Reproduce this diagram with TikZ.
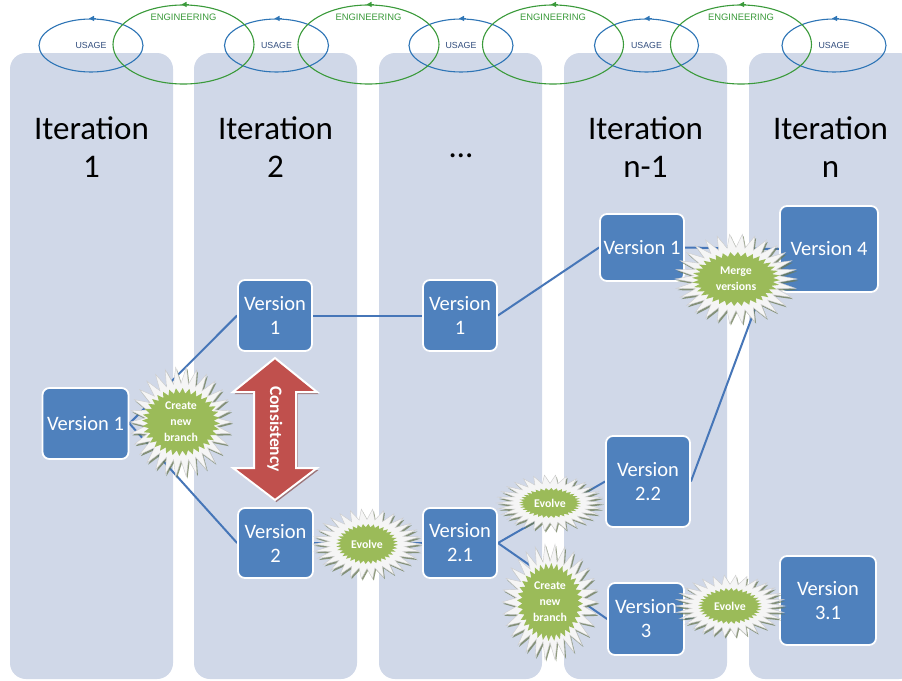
\documentclass[tikz,border=0pt]{standalone}
\usepackage{fontspec}
\setmainfont{Carlito}
\newfontfamily\arialfont{Liberation Sans}
\usetikzlibrary{shapes.geometric,arrows.meta,calc}
\pgfdeclarelayer{bg}
\pgfdeclarelayer{lines}
\pgfsetlayers{bg,lines,main}
\definecolor{colbg}{HTML}{D0D8E8}
\definecolor{vblue}{HTML}{4F81BD}
\definecolor{lineblue}{HTML}{4676B8}
\definecolor{ured}{HTML}{C0504D}
\definecolor{bgreen}{HTML}{9BBB59}
\definecolor{usageblue}{HTML}{2E75B6}
\definecolor{usagetext}{HTML}{2F4B7C}
\definecolor{enggreen}{HTML}{3A9A3A}
\definecolor{burstedge}{HTML}{6B7A55}
\definecolor{redshade}{HTML}{7A3533}
\tikzset{
  column/.style={fill=colbg, rounded corners=16pt},
  usageell/.style={ellipse, draw=usageblue, line width=1.1pt, minimum width=104pt, minimum height=53pt, inner sep=0pt, text=usagetext, font=\arialfont\fontsize{8.8}{10}\selectfont},
  engell/.style={ellipse, draw=enggreen, line width=1.1pt, minimum width=141pt, minimum height=79pt, inner sep=0pt},
  engtext/.style={text=enggreen, font=\arialfont\fontsize{9.4}{11}\selectfont, inner sep=0pt},
  utip/.style={draw=usageblue, line width=1.1pt, -{Triangle[length=5pt,width=5pt]}},
  etip/.style={draw=enggreen, line width=1.1pt, -{Triangle[length=5pt,width=5pt]}},
  title/.style={font=\fontsize{33}{38}\selectfont, align=center, inner sep=0pt, text=black},
  version/.style={rectangle, rounded corners=7pt, fill=vblue, draw=white, line width=1.8pt, text=white, font=\fontsize{20.5}{24}\selectfont, align=center, inner sep=0pt},
  conn/.style={draw=lineblue, line width=2pt},
  burstshadow/.style={fill=burstedge, fill opacity=0.75},
  burstouter/.style={fill=white!96!black, draw=white!80!black, line width=0.4pt},
  burstinner/.style={fill=bgreen},
  bursttext/.style={text=white, font=\bfseries\fontsize{11.8}{16}\selectfont, align=center, inner sep=0pt},
  consshade/.style={fill=redshade, fill opacity=0.6},
  consarrow/.style={fill=ured, draw=white, line width=2pt, line join=miter},
  constext/.style={text=white, font=\bfseries\fontsize{17.5}{20}\selectfont, inner sep=0pt, rotate=-90}
}
% #1 name, #2 x, #3 y, #4 rx, #5 ry, #6 inner rx, #7 inner ry, #8 text
\newcommand{\burstnode}[8]{%
  \fill[burstshadow, shift={(#2+1.2,#3+1.8)}] plot[samples at={0,...,59}]
    ({#4*(1-0.3*mod(\x,2))*cos(\x*6)}, {#5*(1-0.3*mod(\x,2))*sin(\x*6)}) -- cycle;
  \draw[burstouter, shift={(#2,#3)}] plot[samples at={0,...,59}]
    ({#4*(1-0.3*mod(\x,2))*cos(\x*6)}, {#5*(1-0.3*mod(\x,2))*sin(\x*6)}) -- cycle;
  \fill[burstinner, shift={(#2,#3)}] plot[samples at={0,...,71}]
    ({#6*(1-0.16*mod(\x,2))*cos(\x*5+2.5)}, {#7*(1-0.16*mod(\x,2))*sin(\x*5+2.5)}) -- cycle;
  \node[bursttext] (#1) at (#2,#3) {#8};%
}
\begin{document}
\begin{tikzpicture}[x=1pt, y=-1pt]
\useasboundingbox (0,0) rectangle (902,680);
\begin{pgfonlayer}{bg}
  \fill[white] (0,0) rectangle (902,680);
  \fill[column] (10,53) rectangle (173,679);
  \fill[column] (194,53) rectangle (357,679);
  \fill[column] (379,53) rectangle (542,679);
  \fill[column] (564,53) rectangle (727,679);
  \fill[column] (749,53) rectangle (915,679);
\end{pgfonlayer}

% usage / engineering cycles
\node[usageell] (u1) at (91,45.5) {USAGE};
\node[usageell] (u2) at (276.5,45.5) {USAGE};
\node[usageell] (u3) at (461,45.5) {USAGE};
\node[usageell] (u4) at (646.5,45.5) {USAGE};
\node[usageell] (u5) at (834,45.5) {USAGE};
\node[engell] (g1) at (183.5,44.5) {};
\node[engell] (g2) at (368.5,44.5) {};
\node[engell] (g3) at (553,44.5) {};
\node[engell] (g4) at (741,44.5) {};
\node[engtext] (gt1) at (183.5,17) {ENGINEERING};
\node[engtext] (gt2) at (368.5,17) {ENGINEERING};
\node[engtext] (gt3) at (553,17) {ENGINEERING};
\node[engtext] (gt4) at (741,17) {ENGINEERING};
\foreach \n in {u1,u2,u3,u4,u5}{
  \draw[utip] ([xshift=5pt]\n.north) -- ([xshift=-2pt]\n.north);
}
\foreach \n in {g1,g2,g3,g4}{
  \draw[etip] ([xshift=5pt]\n.north) -- ([xshift=-2pt]\n.north);
}

% titles
\node[title, anchor=north] (t1) at (91.5,116) {Iteration\\1};
\node[title, anchor=north] (t2) at (275.5,116) {Iteration\\2};
\node[title, anchor=base] (t3) at (461,157) {…};
\node[title, anchor=north] (t4) at (645.5,116) {Iteration\\n-1};
\node[title, anchor=north] (t5) at (830.5,116) {Iteration\\n};

% version boxes
\node[version, minimum width=86pt, minimum height=71pt] (a1) at (85.5,423.5) {Version 1};
\node[version, minimum width=74pt, minimum height=71pt] (b1) at (275,315.5) {Version\\1};
\node[version, minimum width=75pt, minimum height=70pt] (b2) at (275.5,543) {Version\\2};
\node[version, minimum width=74pt, minimum height=71pt] (c1) at (460,315.5) {Version\\1};
\node[version, minimum width=74pt, minimum height=70pt] (c21) at (460,543) {Version\\2.1};
\node[version, minimum width=84pt, minimum height=67pt] (d1) at (642,247.5) {Version 1};
\node[version, minimum width=84pt, minimum height=91pt] (d22) at (648,481.5) {Version\\2.2};
\node[version, minimum width=76pt, minimum height=72pt] (d3) at (646,619) {Version\\3};
\node[version, minimum width=98pt, minimum height=86pt] (e4) at (829,249) {Version 4};
\node[version, minimum width=96pt, minimum height=89pt] (e31) at (828,600.5) {Version\\3.1};
\coordinate (mend) at (762,290);

% connectors
\begin{pgfonlayer}{lines}
  \draw[conn] (a1.east) -- (b1.west);
  \draw[conn] (a1.east) -- (b2.west);
  \draw[conn] (b1.east) -- (c1.west);
  \draw[conn] (c1.east) -- (d1.west);
  \draw[conn] (d1.east) -- (e4.west);
  \draw[conn] (d22.east) -- (mend);
  \draw[conn] (b2.east) -- (c21.west);
  \draw[conn] (c21.east) -- (d22.west);
  \draw[conn] (c21.east) -- (d3.west);
  \draw[conn] (d3.east) -- (e31.west);
\end{pgfonlayer}

% starbursts
\burstnode{s1}{181}{422}{51}{55}{39}{34}{Create\\new\\branch}
\burstnode{s2}{367}{544}{54}{35}{31}{20}{Evolve}
\burstnode{s3}{550}{503}{53}{28}{31}{15}{Evolve}
\burstnode{s4}{550}{602}{48}{58}{33}{39}{Create\\new\\branch}
\burstnode{s5}{730}{606}{55}{31}{32}{18}{Evolve}
\burstnode{s6}{736}{279}{61}{45}{44}{27}{Merge\\versions}

% consistency arrow
\fill[consshade] (276.5,360) -- (318.5,394) -- (297.5,394) -- (297.5,470) -- (318.5,470)
  -- (276.5,502) -- (234.5,470) -- (255.5,470) -- (255.5,394) -- (234.5,394) -- cycle;
\draw[consarrow] (275,358) -- (317,392) -- (296,392) -- (296,468) -- (317,468)
  -- (275,500) -- (233,468) -- (254,468) -- (254,392) -- (233,392) -- cycle;
\node[constext] (cons) at (275,429) {Consistency};
\end{tikzpicture}
\end{document}
